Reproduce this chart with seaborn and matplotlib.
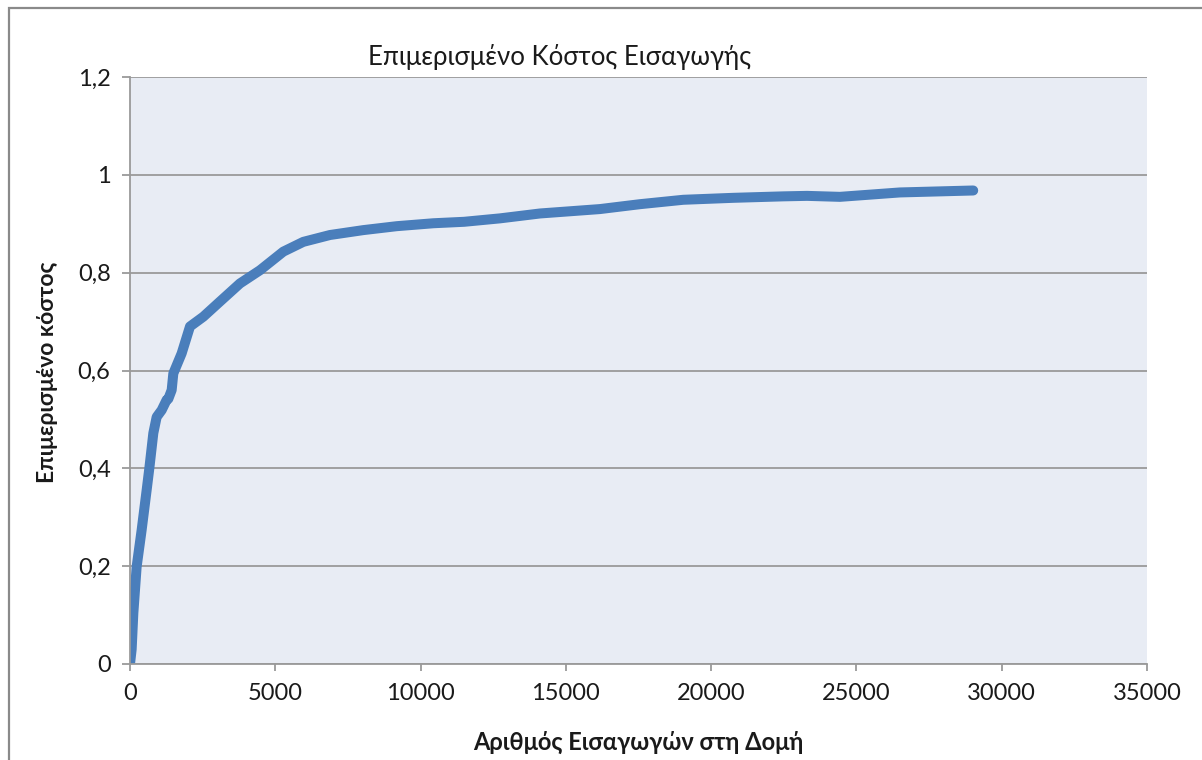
import matplotlib
matplotlib.use("Agg")
import matplotlib.pyplot as plt
import seaborn as sns
import pandas as pd
from matplotlib.patches import Rectangle
from matplotlib.ticker import FuncFormatter

inserts = [0, 57, 115, 229, 401, 574, 665, 803, 918, 1090, 1262, 1319, 1434, 1491,
           1778, 2065, 2524, 3097, 3785, 4474, 5276, 5965, 6882, 8029, 9176, 10438,
           11500, 12732, 14109, 16173, 17550, 19041, 20761, 22480, 23300, 24432,
           26497, 29019]
cost = [0.0, 0.03, 0.104, 0.199, 0.274, 0.356, 0.400, 0.472, 0.505, 0.519, 0.540,
        0.542, 0.560, 0.594, 0.635, 0.690, 0.710, 0.741, 0.778, 0.805, 0.843, 0.863,
        0.877, 0.887, 0.895, 0.901, 0.904, 0.911, 0.921, 0.930, 0.940, 0.949, 0.953,
        0.956, 0.957, 0.955, 0.964, 0.968]

title = "Επιμερισμένο Κόστος Εισαγωγής"
xlabel = "Αριθμός Εισαγωγών στη Δομή"
ylabel = "Επιμερισμένο κόστος"
xticks = [0, 5000, 10000, 15000, 20000, 25000, 30000, 35000]
yticks = [0, 0.2, 0.4, 0.6, 0.8, 1.0, 1.2]

df = pd.DataFrame({"x": inserts, "y": cost})

sns.set_theme(style="white")
plt.rcParams['font.family'] = ['Lato', 'DejaVu Sans']

fig = plt.figure(figsize=(12.02, 7.6), dpi=100)
ax = fig.add_axes([130/1202, 1 - 664/760, (1147-130)/1202, (664-77)/760])
ax.set_facecolor("#e8ecf4")

sns.lineplot(data=df, x="x", y="y", ax=ax, color="#4a7ebb", linewidth=7.2,
             solid_capstyle="round", solid_joinstyle="round")

ax.set_xlim(0, 35000)
ax.set_ylim(0, 1.2)
ax.set_xticks(xticks)
ax.set_yticks(yticks)

def yfmt(v, pos):
    s = f"{v:.1f}".rstrip("0").rstrip(".")
    return s.replace(".", ",")
ax.yaxis.set_major_formatter(FuncFormatter(yfmt))
ax.xaxis.set_major_formatter(FuncFormatter(lambda v, p: f"{int(v)}"))

ax.grid(axis="y", color="#9a9a9a", linewidth=1.3)
ax.grid(axis="x", visible=False)
ax.set_axisbelow(True)
for s in ["top", "right"]:
    ax.spines[s].set_visible(False)
for s in ["left", "bottom"]:
    ax.spines[s].set_color("#9a9a9a")
    ax.spines[s].set_linewidth(1.3)

ax.tick_params(axis="y", direction="out", length=6, width=1.3, color="#9a9a9a",
               labelsize=17, pad=8, left=True, labelcolor="#1a1a1a")
ax.tick_params(axis="x", direction="out", length=5, width=1.3, color="#9a9a9a",
               labelsize=17, pad=9, bottom=True, labelcolor="#1a1a1a")

ax.set_xlabel("")
ax.set_ylabel("")
fig.text(638/1202, 1 - 742/760, xlabel, ha="center", va="center", fontsize=17,
         fontweight="bold", color="#1a1a1a")
fig.text(48/1202, 1 - 372/760, ylabel, ha="center", va="center", fontsize=16.5,
         fontweight="bold", rotation=90, color="#1a1a1a")
fig.text(560/1202, 1 - 57/760, title, ha="center", va="center", fontsize=18.5,
         color="#1a1a1a")

fig.patches.append(Rectangle((9/1202, -0.1), 1.2, 1 - 8/760 + 0.1,
                             transform=fig.transFigure, fill=False,
                             edgecolor="#8a8a8a", linewidth=1.6))

fig.savefig("out.png", dpi=100, facecolor="white")
